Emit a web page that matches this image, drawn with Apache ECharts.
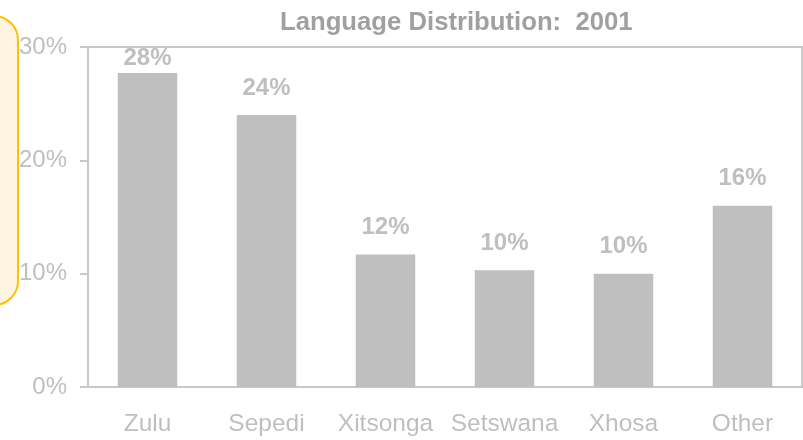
<!DOCTYPE html>
<html>
<head>
<meta charset="utf-8">
<script src="https://cdn.jsdelivr.net/npm/echarts@6/dist/echarts.min.js"></script>
<style>
  html, body { margin: 0; padding: 0; background: #fff; }
  #chart { width: 803px; height: 440px; }
</style>
</head>
<body>
<div id="chart"></div>
<script>
// language shares, 2001 (percent)
var languages = ['Zulu', 'Sepedi', 'Xitsonga', 'Setswana', 'Xhosa', 'Other'];
var shares = [27.7, 24.0, 11.7, 10.3, 10.0, 16.0];
var yTicks = [0, 10, 20, 30];

var grey = '#BFBFBF';
var font = '"Liberation Sans", Arial, sans-serif';

var chart = echarts.init(document.getElementById('chart'));

var barData = shares.map(function (v, i) {
  var item = { value: v };
  // top label squeezed inside the plot area, like the original
  if (i === 0) item.label = { distance: 3 };
  return item;
});

chart.setOption({
  animation: false,
  title: {
    text: 'Language Distribution:  2001',
    left: 275,
    top: 5,
    textStyle: { color: '#A0A0A0', fontSize: 25.7, fontWeight: 'bold', fontFamily: font }
  },
  graphic: [{
    type: 'rect',
    shape: { x: -30, y: 16, width: 48, height: 289, r: 26 },
    style: { fill: '#FEF4E1', stroke: '#FFC000', lineWidth: 2 },
    z: 0
  }],
  grid: {
    left: 88, right: 1, top: 47, bottom: 53,
    show: true, borderColor: '#C8C8C8', borderWidth: 2
  },
  xAxis: {
    type: 'category',
    data: languages,
    axisLine: { lineStyle: { color: '#C8C8C8', width: 2 } },
    axisTick: { show: false },
    axisLabel: { color: grey, fontSize: 24.5, fontFamily: font, margin: 25, interval: 0 }
  },
  yAxis: {
    type: 'value',
    min: yTicks[0],
    max: yTicks[yTicks.length - 1],
    interval: 10,
    splitLine: { show: false },
    axisLine: { show: true, lineStyle: { color: '#C8C8C8', width: 2 } },
    axisTick: { show: true, length: 8, lineStyle: { color: '#C8C8C8', width: 2 } },
    axisLabel: { color: grey, fontSize: 24, fontFamily: font, margin: 21, formatter: '{value}%' }
  },
  series: [{
    type: 'bar',
    data: barData,
    barWidth: '50%',
    itemStyle: { color: grey },
    label: {
      show: true,
      position: 'top',
      distance: 15,
      color: grey,
      fontSize: 24,
      fontWeight: 'bold',
      fontFamily: font,
      formatter: function (p) { return Math.round(p.value) + '%'; }
    }
  }]
});
</script>
</body>
</html>
